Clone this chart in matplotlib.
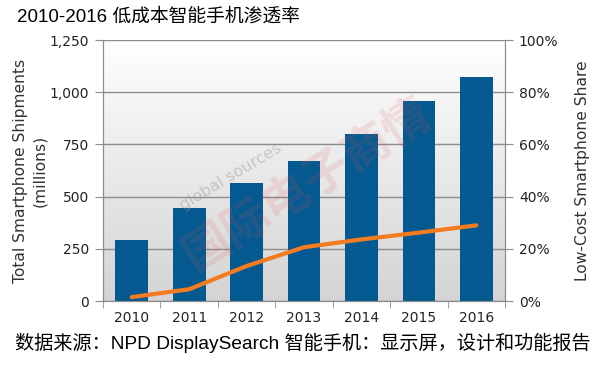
import numpy as np
import matplotlib
matplotlib.use('Agg')
import matplotlib.pyplot as plt
from matplotlib.ticker import FuncFormatter, PercentFormatter

years = ['2010', '2011', '2012', '2013', '2014', '2015', '2016']
shipments = [290, 445, 565, 670, 800, 958, 1072]
low_cost_share = [1.5, 4.5, 13.4, 20.6, 23.6, 26.2, 29.0]

BAR_COLOR = '#045a90'
LINE_COLOR = '#f47b20'
CJK = ['Liberation Sans', 'Noto Sans CJK SC']

fig = plt.figure(figsize=(6.15, 3.65), dpi=100)
ax = fig.add_axes([0.1675, 0.1753, 0.6537, 0.7151])
ax2 = ax.twinx()

# grey gradient background of the plot area (grey bottom, white top)
grad = np.linspace(0, 1, 256).reshape(-1, 1)
ax.imshow(grad, extent=[-0.5, 6.5, 0, 1250], aspect='auto', origin='lower',
          cmap=matplotlib.colors.LinearSegmentedColormap.from_list('bg', ['#d4d4d4', '#ffffff']),
          zorder=0)

x = np.arange(len(years))
ax.bar(x, shipments, width=0.57, color=BAR_COLOR, zorder=3)
ax.set_xlim(-0.5, 6.5)
ax.set_ylim(0, 1250)
ax.set_yticks(range(0, 1251, 250))
ax.yaxis.set_major_formatter(FuncFormatter(lambda v, p: f'{int(v):,}'))
ax.grid(axis='y', color='#8c8c8c', linewidth=1, zorder=1)
ax.set_axisbelow(True)

ax.set_xticks(x)
ax.set_xticklabels(years)
ax.set_xticks(np.arange(-0.5, 7, 1), minor=True)
ax.tick_params(axis='x', which='major', length=0, labelsize=10, pad=7, labelcolor='#222222')
ax.tick_params(axis='x', which='minor', length=5, color='#8c8c8c')
ax.tick_params(axis='y', length=6, color='#8c8c8c', labelsize=10, pad=4, labelcolor='#222222')
ax.set_ylabel('Total Smartphone Shipments\n(millions)', fontsize=11.2,
              color='#333333', labelpad=2, linespacing=1.35)

ax2.plot(x, low_cost_share, color=LINE_COLOR, linewidth=3,
         solid_joinstyle='round', solid_capstyle='round', zorder=4)
ax2.set_ylim(0, 100)
ax2.set_yticks(range(0, 101, 20))
ax2.yaxis.set_major_formatter(PercentFormatter(decimals=0))
ax2.tick_params(axis='y', length=6, color='#8c8c8c', labelsize=10, pad=4, labelcolor='#222222')
ax2.set_ylabel('Low-Cost Smartphone Share', fontsize=11.2, color='#333333', labelpad=12)

for a in (ax, ax2):
    a.spines['top'].set_visible(False)
    for side in ('left', 'right', 'bottom'):
        a.spines[side].set_color('#8c8c8c')

# watermark
fig.text(0.376, 0.515, 'global sources', fontsize=11.5, color='#999999', alpha=0.45,
         rotation=31, ha='center', va='center')
fig.text(0.50, 0.49, '国际电子商情', family=CJK, fontsize=34, color='#e05050',
         alpha=0.14, rotation=32, ha='center', va='center', fontweight='bold')

fig.text(0.028, 0.955, '2010-2016 低成本智能手机渗透率', family=CJK, fontsize=13.5,
         ha='left', va='center')
fig.text(0.024, 0.06, '数据来源：NPD DisplaySearch 智能手机：显示屏，设计和功能报告',
         family=CJK, fontsize=13.8, ha='left', va='center')

fig.savefig('out.png', dpi=100)
